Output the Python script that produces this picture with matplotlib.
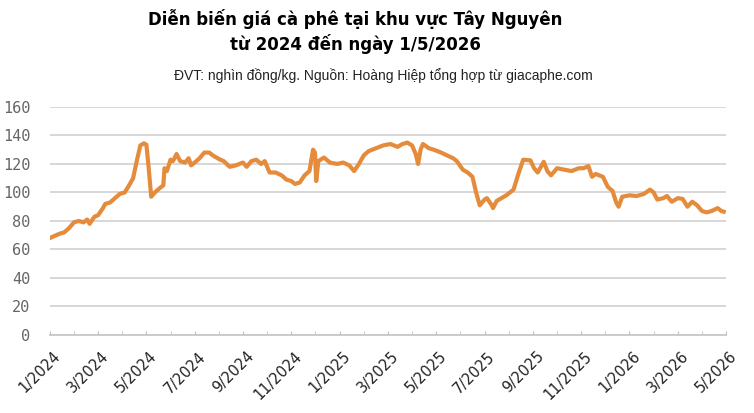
import numpy as np
import matplotlib.pyplot as plt
from matplotlib.transforms import ScaledTranslation

# months since 1/2024, price (nghin dong/kg)
months = [0.0, 0.2, 0.4, 0.6, 0.8, 1.0, 1.2, 1.4, 1.55, 1.65, 1.85, 2.0, 2.2, 2.3,
          2.5, 2.7, 2.9, 3.1, 3.25, 3.45, 3.6, 3.75, 3.9, 4.0, 4.08, 4.2, 4.35,
          4.55, 4.7, 4.75, 4.85, 5.0, 5.1, 5.25, 5.4, 5.6, 5.75, 5.85, 6.0, 6.2,
          6.4, 6.6, 6.75, 7.0, 7.2, 7.45, 7.7, 8.0, 8.15, 8.35, 8.55, 8.75, 8.9,
          9.1, 9.35, 9.6, 9.8, 10.0, 10.15, 10.35, 10.55, 10.75, 10.9, 10.98,
          11.03, 11.12, 11.35, 11.6, 11.9, 12.15, 12.4, 12.6, 12.8, 13.0, 13.2,
          13.5, 13.8, 14.1, 14.4, 14.6, 14.8, 15.0, 15.15, 15.25, 15.35, 15.45,
          15.7, 15.9, 16.2, 16.45, 16.7, 16.85, 17.1, 17.3, 17.5, 17.65, 17.8,
          18.0, 18.1, 18.3, 18.35, 18.5, 18.7, 18.9, 19.2, 19.4, 19.6, 19.9,
          20.05, 20.2, 20.45, 20.6, 20.75, 21.0, 21.3, 21.6, 21.9, 22.1, 22.3,
          22.45, 22.6, 22.9, 23.1, 23.3, 23.45, 23.55, 23.7, 24.0, 24.3, 24.6,
          24.85, 25.0, 25.15, 25.4, 25.55, 25.75, 26.0, 26.2, 26.4, 26.6, 26.8,
          27.0, 27.2, 27.4, 27.65, 27.8, 27.9]
prices = [68, 69.5, 71, 72, 75, 79, 80, 79, 81, 78, 83, 84, 89, 92,
          93, 96, 99, 100, 104, 110, 122, 133, 134.5, 133.5, 120, 97, 100,
          103, 105, 117, 115, 123, 122, 127, 122, 121, 124, 119, 121, 124,
          128, 128, 126, 123.5, 122, 118, 119, 121, 118, 122, 123, 120, 122,
          114, 114, 112, 109, 108, 106, 107, 112, 115, 130, 128,
          108, 122, 124.5, 121, 120, 121, 119, 115, 120, 126, 129,
          131, 133, 134, 132, 134, 135, 133, 127, 120, 130, 134,
          131, 130, 128, 126, 124, 122, 116, 114, 111, 100, 91,
          95, 96, 91, 89, 94, 96, 98, 102, 113, 123, 122.5,
          117, 114, 121.5, 115, 112, 117, 116, 115, 117, 117, 118.5,
          111, 113, 111, 104, 101, 93, 90, 97, 98, 97.5, 99,
          102, 100, 95, 96, 97.5, 93.5, 96, 95.5, 90, 93.5, 91,
          87, 86, 87, 89, 87, 86.5]

tick_pos = list(range(0, 29, 2))
tick_labels = ["1/2024", "3/2024", "5/2024", "7/2024", "9/2024", "11/2024",
               "1/2025", "3/2025", "5/2025", "7/2025", "9/2025", "11/2025",
               "1/2026", "3/2026", "5/2026"]

fig = plt.figure(figsize=(7.54, 4.13), dpi=100)
ax = fig.add_axes([0.066, 0.189, 0.897, 0.552])

ax.plot(months, prices, color="#E58B3C", lw=3, solid_joinstyle="round")

ax.set_xlim(0, 28)
ax.set_ylim(0, 160)
ax.set_yticks(np.arange(0, 161, 20))
ax.grid(axis="y", color="#d4d4d4", lw=1.3)
ax.set_axisbelow(True)
for s in ["top", "right", "left"]:
    ax.spines[s].set_visible(False)
ax.spines["bottom"].set_color("#c8c8c8")
ax.spines["bottom"].set_linewidth(1.3)

ax.set_xticks(range(0, 29), minor=True)
ax.set_xticks(tick_pos)
ax.set_xticklabels(tick_labels, rotation=45, ha="right", rotation_mode="anchor",
                   fontsize=10.5, family="DejaVu Sans", color="#222222")
ax.tick_params(axis="x", which="both", direction="in", length=3,
               color="#c0c0c0", pad=10)
ax.tick_params(axis="y", length=0, pad=14, labelcolor="#666666")
for lab in ax.get_xticklabels():
    lab.set_transform(lab.get_transform() + ScaledTranslation(0.03, 0, fig.dpi_scale_trans))
for lab in ax.get_yticklabels():
    lab.set_family("DejaVu Sans Mono")
    lab.set_fontsize(11)

fig.text(0.471, 0.955, "Diễn biến giá cà phê tại khu vực Tây Nguyên",
         ha="center", va="center", fontsize=12, fontweight="bold")
fig.text(0.471, 0.893, "từ 2024 đến ngày 1/5/2026",
         ha="center", va="center", fontsize=12, fontweight="bold")
fig.text(0.509, 0.816, "ĐVT: nghìn đồng/kg. Nguồn: Hoàng Hiệp tổng hợp từ giacaphe.com",
         ha="center", va="center", fontsize=10, family="Liberation Sans",
         color="#222222")

fig.savefig("out.png", dpi=100)
